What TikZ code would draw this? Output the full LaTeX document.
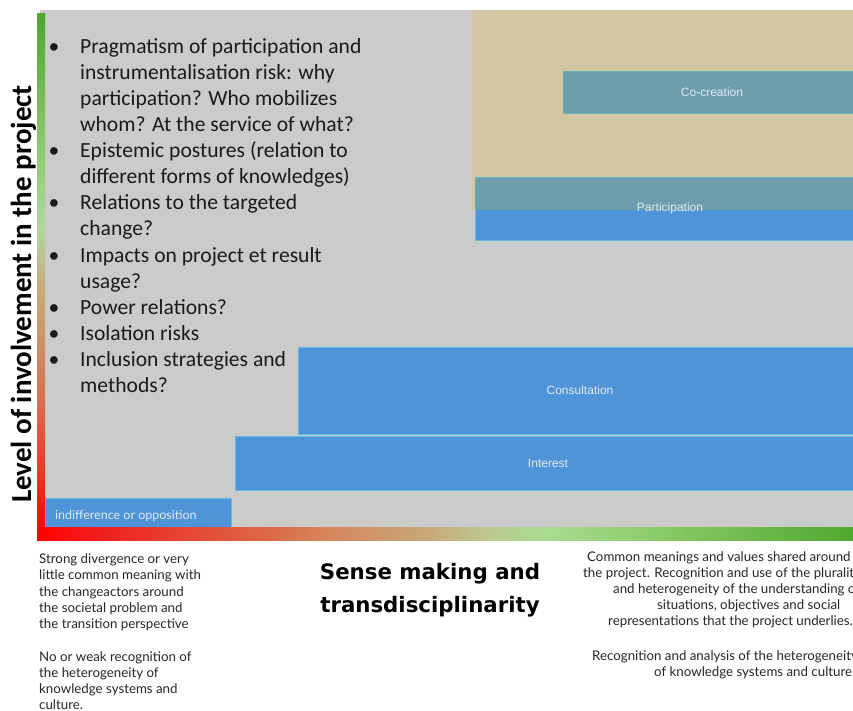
\documentclass[tikz,border=0pt]{standalone}
\usepackage{fontspec}
\usetikzlibrary{calc}
\setmainfont{Carlito}
\newfontfamily\labfont{Liberation Sans}
\newfontfamily\aptfont{Lato}
\newfontfamily\titlefont{DejaVu Sans}
\definecolor{bggray}{HTML}{CBCBCB}
\definecolor{tanbg}{HTML}{D3C6A3}
\definecolor{boxblue}{HTML}{4F94D9}
\definecolor{boxteal}{HTML}{6E9EAE}
\definecolor{boxedge}{HTML}{5FBDE6}
\definecolor{tealedge}{HTML}{62B4B8}
\definecolor{labwhite}{HTML}{E2EAF2}
\definecolor{txtdark}{HTML}{1A1A1A}
\definecolor{txtgray}{HTML}{262626}
\definecolor{hA}{HTML}{FF0000}
\definecolor{hB}{HTML}{F02020}
\definecolor{hC}{HTML}{E05A40}
\definecolor{hD}{HTML}{D4885E}
\definecolor{hE}{HTML}{C8AA7A}
\definecolor{hF}{HTML}{BEC690}
\definecolor{hG}{HTML}{A8DC90}
\definecolor{hH}{HTML}{8CCB6A}
\definecolor{hI}{HTML}{4EA72E}
\definecolor{vB}{HTML}{E83A2A}
\definecolor{vC}{HTML}{D87050}
\definecolor{vD}{HTML}{CC9868}
\definecolor{vE}{HTML}{C6B07E}
\definecolor{vF}{HTML}{B0D898}
\definecolor{vG}{HTML}{8CCB70}
\pgfdeclarehorizontalshading{hgrad}{100bp}{color(0bp)=(hA); color(25bp)=(hA); color(29bp)=(hB); color(37bp)=(hC); color(43bp)=(hD); color(49bp)=(hE); color(52bp)=(hF); color(56bp)=(hG); color(62.5bp)=(hH); color(75bp)=(hI); color(100bp)=(hI)}
\pgfdeclareverticalshading{vgrad}{100bp}{color(0bp)=(hA); color(25bp)=(hA); color(31.25bp)=(vB); color(38bp)=(vC); color(44.5bp)=(vD); color(49.5bp)=(vE); color(54.25bp)=(vF); color(62bp)=(vG); color(75bp)=(hI); color(100bp)=(hI)}
\begin{document}
\begin{tikzpicture}[x=1pt,y=-1pt,
  band/.style={draw=boxedge, line width=0.8pt, fill=boxblue, inner sep=0pt, outer sep=0pt, anchor=north west},
  bandlabel/.style={text=labwhite, font=\labfont\fontsize{12}{14}\selectfont, inner sep=0pt},
  bullettext/.style={anchor=base west, inner sep=0pt, text=txtdark, font=\fontsize{21.6}{26}\selectfont},
  bulletdot/.style={anchor=base, inner sep=0pt, text=txtdark, font=\fontsize{21.6}{26}\selectfont},
  notetext/.style={anchor=base west, inner sep=0pt, text=txtgray, font=\aptfont\fontsize{13.3}{16}\selectfont},
  titletext/.style={anchor=base, inner sep=0pt, text=black, font=\titlefont\bfseries\fontsize{21.3}{33}\selectfont}
]
\useasboundingbox (0,0) rectangle (853,711);
\begin{scope}
\clip (0,0) rectangle (853,711);
% background regions
\fill[bggray] (40,10) rectangle (860,528);
\fill[tanbg] (472,10) rectangle (860,210);
\coordinate (tanbottom) at (472,210);
% bands
\node[band, minimum width=300pt, minimum height=42pt, fill=boxteal, draw=tealedge] (cocre) at (563,71) {};
\node[bandlabel] (cocrelab) at (712,92) {Co-creation};
\node[band, minimum width=390pt, minimum height=63pt] (part) at (475,177) {};
\fill[boxteal] (part.north west) rectangle (part.east |- tanbottom);
\draw[tealedge, line width=0.8pt] (part.north west) -- (part.north east);
\draw[tealedge, line width=0.8pt] (part.north west) -- (part.west |- tanbottom);
\draw[boxedge, line width=0.8pt] (part.west |- tanbottom) -- (part.south west) -- (part.south east);
\node[bandlabel] (partlab) at (670,208) {Participation};
\node[band, minimum width=570pt, minimum height=87pt] (consult) at (298,347) {};
\node[bandlabel] (consultlab) at (580,390) {Consultation};
\node[band, minimum width=630pt, minimum height=54pt] (interest) at (235,436) {};
\node[bandlabel] (interestlab) at (548,463) {Interest};
\node[band, minimum width=186pt, minimum height=29pt] (indiff) at (45,498) {};
\node[bandlabel, anchor=west, font=\aptfont\fontsize{12.5}{14}\selectfont] (indifflab) at (55,516) {indifference or opposition};
% axes
\shade[shading=vgrad] (37,14) rectangle (45,535);
\shade[shading=hgrad] (37,527) rectangle (860,540);
% bullet list
\foreach \t [count=\i from 0] in {Pragmatism of participation and, instrumentalisation risk: why, participation? Who mobilizes, whom? At the service of what?, Epistemic postures (relation to, different forms of knowledges), Relations to the targeted, change?, Impacts on project et result, usage?, Power relations?, Isolation risks, Inclusion strategies and, methods?}
  \node[bullettext] (line\i) at (80,54+26*\i) {\t};
\foreach \i in {0,4,6,8,10,11,12}
  \node[bulletdot] (dot\i) at (54,54+26*\i) {\textbullet};
% axis labels
\node[rotate=90, anchor=base, inner sep=0pt, text=black, font=\bfseries\fontsize{29}{32}\selectfont] (ylab) at (31,294) {Level of involvement in the project};
\node[titletext] (xlab1) at (430,579) {Sense making and};
\node[titletext] (xlab2) at (430,612) {transdisciplinarity};
% left note
\foreach \t/\yy [count=\i] in {Strong divergence or very/563, little common meaning with/579, the changeactors around/596, the societal problem and/612, the transition perspective/628, No or weak recognition of/661, the heterogeneity of/677, knowledge systems and/693, culture./709}
  \node[notetext] (lnote\i) at (39,\yy) {\t};
% right note
\foreach \t/\xx/\yy [count=\i] in {Common meanings and values shared around/587/561, the project. Recognition and use of the plurality/583/577, and heterogeneity of the understanding of/613/593, {situations, objectives and social}/657/609, representations that the project underlies./608/625, Recognition and analysis of the heterogeneity/592/660, of knowledge systems and culture./654/676}
  \node[notetext] (rnote\i) at (\xx,\yy) {\t};
\end{scope}
\end{tikzpicture}
\end{document}
